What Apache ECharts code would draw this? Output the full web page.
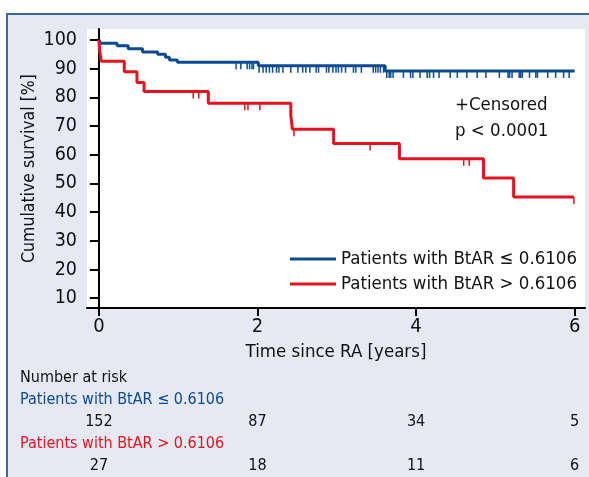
<!DOCTYPE html>
<html>
<head>
<meta charset="utf-8">
<script src="https://cdn.jsdelivr.net/npm/echarts@6/dist/echarts.min.js"></script>
<style>
  html, body { margin: 0; padding: 0; background: #fff; }
  #main { width: 589px; height: 477px; }
</style>
</head>
<body>
<div id="main"></div>
<script>
// Kaplan-Meier steps (time in years, survival in %)
const blueTimes = [0, 0.02, 0.23, 0.37, 0.55, 0.74, 0.84, 0.89, 0.99, 2.01, 3.61, 6.0];
const blueSurv = [100, 98.8, 98.0, 96.9, 95.8, 95.0, 94.0, 93.0, 92.2, 91.0, 89.2, 89.2];
const redTimes = [0, 0.01, 0.03, 0.32, 0.48, 0.57, 1.38, 2.42, 2.44, 2.96, 3.79, 4.85, 5.23, 5.99];
const redSurv = [100, 96.3, 92.6, 88.9, 85.2, 82.0, 77.9, 73.8, 68.9, 63.9, 58.6, 51.9, 45.3, 45.3];

// censored observations (times)
const blueCensored = [1.73, 1.79, 1.87, 1.90, 1.93, 1.95, 2.02, 2.07, 2.11, 2.15, 2.19, 2.24, 2.27, 2.32,
  2.42, 2.51, 2.57, 2.61, 2.66, 2.74, 2.77, 2.87, 2.90, 2.95, 2.99, 3.02, 3.06, 3.11, 3.21, 3.24, 3.31,
  3.46, 3.49, 3.52, 3.55, 3.59, 3.63, 3.66, 3.68, 3.71, 3.84, 3.93, 3.96, 4.05, 4.14, 4.17, 4.22, 4.29,
  4.43, 4.52, 4.64, 4.77, 4.88, 5.05, 5.16, 5.18, 5.21, 5.30, 5.32, 5.34, 5.43, 5.51, 5.53, 5.66, 5.76,
  5.86, 5.93];
const redCensored = [1.19, 1.26, 1.84, 1.88, 2.03, 2.46, 3.42, 4.60, 4.67, 5.99];

// number at risk
const riskTimes = [0, 2, 4, 6];
const riskBlue = [152, 87, 34, 5];
const riskRed = [27, 18, 11, 6];

const yTicks = [10, 20, 30, 40, 50, 60, 70, 80, 90, 100];
const xTicks = [0, 2, 4, 6];

const blueName = 'Patients with BtAR \u2264 0.6106';
const redName = 'Patients with BtAR > 0.6106';
const BLUE = '#0c4a94';
const RED = '#e5131d';
const FONT = "'DejaVu Sans Condensed', 'Liberation Sans', sans-serif";

// survival level at a censoring time (value of the step curve)
function levelAt(times, surv, t) {
  let v = surv[0];
  for (let i = 0; i < times.length; i++) {
    if (times[i] <= t) v = surv[i];
  }
  return v;
}

const zip = (a, b) => a.map((v, i) => [v, b[i]]);

const tickSeries = (censored, times, surv, color) => ({
  type: 'custom',
  z: 3,
  data: censored.map(t => [t, levelAt(times, surv, t)]),
  renderItem: (params, api) => {
    const p = api.coord([api.value(0), api.value(1)]);
    return {
      type: 'line',
      shape: { x1: p[0], y1: p[1], x2: p[0], y2: p[1] + 7 },
      style: { stroke: color, lineWidth: 1.5 }
    };
  }
});

const rowNames = ['Number at risk', blueName, 'n1', redName, 'n2'];

const riskSeries = (rowKey, values) => ({
  type: 'custom',
  xAxisIndex: 1,
  yAxisIndex: 1,
  data: riskTimes.map((t, i) => [t, rowKey, values[i]]),
  renderItem: (params, api) => {
    const p = api.coord([api.value(0), api.value(1)]);
    return {
      type: 'text',
      x: p[0],
      y: p[1],
      style: {
        text: String(api.value(2)),
        align: 'center',
        verticalAlign: 'middle',
        fontFamily: FONT,
        fontSize: 16,
        fill: '#111'
      }
    };
  }
});

const chart = echarts.init(document.getElementById('main'));
chart.setOption({
  backgroundColor: '#fff',
  animation: false,
  textStyle: { fontFamily: FONT },
  graphic: [
    {
      type: 'rect',
      z: -10,
      shape: { x: 7, y: 14, width: 620, height: 500 },
      style: { fill: '#e6e8f3', stroke: '#3a68a6', lineWidth: 2 }
    },
    {
      type: 'text',
      left: 455,
      top: 96,
      style: { text: '+Censored', fontFamily: FONT, fontSize: 18.5, fill: '#111' }
    },
    {
      type: 'text',
      left: 455,
      top: 122,
      style: { text: 'p < 0.0001', fontFamily: FONT, fontSize: 18.5, fill: '#111' }
    }
  ],
  grid: [
    { left: 87, top: 29, right: 4, height: 279, show: true, backgroundColor: '#fff', borderWidth: 0 },
    { left: 87, top: 367, right: 4, height: 112 }
  ],
  legend: {
    data: [blueName, redName],
    orient: 'vertical',
    left: 285,
    top: 243,
    icon: 'rect',
    itemWidth: 46,
    itemHeight: 3,
    itemGap: 3,
    textStyle: { fontFamily: FONT, fontSize: 18.5, color: '#111', lineHeight: 22 }
  },
  xAxis: [
    {
      type: 'value',
      min: -0.15,
      max: 6.13,
      name: 'Time since RA [years]',
      nameLocation: 'middle',
      nameGap: 35,
      nameMoveOverlap: false,
      nameTextStyle: { fontFamily: FONT, fontSize: 18.5, color: '#111' },
      splitLine: { show: false },
      axisLine: { lineStyle: { color: '#000', width: 2 } },
      axisTick: { length: 8, lineStyle: { color: '#000', width: 2 }, customValues: xTicks },
      axisLabel: { fontSize: 20, color: '#111', margin: 9, customValues: xTicks }
    },
    {
      type: 'value',
      gridIndex: 1,
      min: -0.15,
      max: 6.13,
      show: false
    }
  ],
  yAxis: [
    {
      type: 'value',
      min: 6.6,
      max: 103.8,
      name: 'Cumulative survival [%]',
      nameLocation: 'middle',
      nameGap: 49,
      nameMoveOverlap: false,
      nameTextStyle: { fontFamily: FONT, fontSize: 17.5, color: '#111' },
      splitLine: { show: false },
      axisLine: { show: true, lineStyle: { color: '#000', width: 2 } },
      axisTick: { show: true, length: 9, lineStyle: { color: '#000', width: 2 }, customValues: yTicks },
      axisLabel: { fontSize: 19.5, color: '#111', margin: 10, customValues: yTicks }
    },
    {
      type: 'category',
      gridIndex: 1,
      inverse: true,
      data: rowNames,
      axisLine: { show: false },
      axisTick: { show: false },
      splitLine: { show: false },
      axisLabel: {
        interval: 0,
        align: 'left',
        margin: 67,
        fontSize: 16,
        formatter: v => (v === 'n1' || v === 'n2') ? '' : v,
        color: v => v === blueName ? BLUE : (v === redName ? RED : '#111')
      }
    }
  ],
  series: [
    {
      type: 'line',
      name: blueName,
      step: 'end',
      showSymbol: false,
      color: BLUE,
      lineStyle: { width: 3, color: BLUE },
      z: 4,
      data: zip(blueTimes, blueSurv)
    },
    {
      type: 'line',
      name: redName,
      step: 'end',
      showSymbol: false,
      color: RED,
      lineStyle: { width: 3, color: RED },
      z: 4,
      data: zip(redTimes, redSurv)
    },
    tickSeries(blueCensored, blueTimes, blueSurv, BLUE),
    tickSeries(redCensored, redTimes, redSurv, RED),
    riskSeries('n1', riskBlue),
    riskSeries('n2', riskRed)
  ]
});
</script>
</body>
</html>
